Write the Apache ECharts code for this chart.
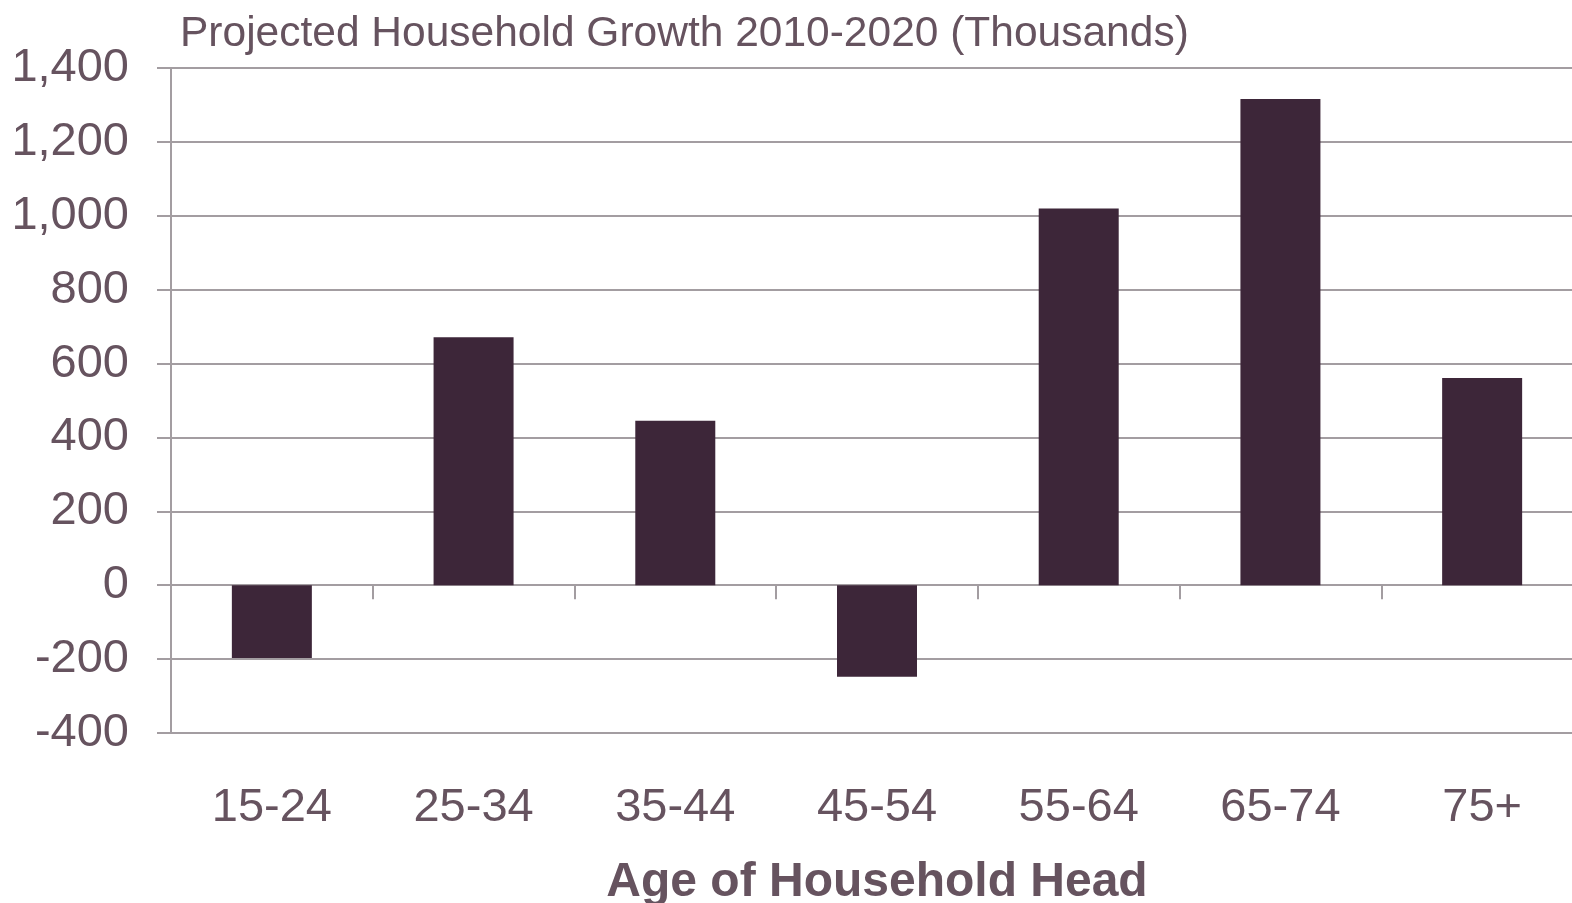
<!DOCTYPE html>
<html>
<head>
<meta charset="utf-8">
<title>Projected Household Growth 2010-2020</title>
<script src="https://cdn.jsdelivr.net/npm/echarts@6/dist/echarts.min.js"></script>
<style>
  html, body { margin: 0; padding: 0; background: #ffffff; }
  #chart { width: 1572px; height: 903px; }
</style>
</head>
<body>
<div id="chart"></div>
<script>
// Age groups of the household head
const categories = ['15-24', '25-34', '35-44', '45-54', '55-64', '65-74', '75+'];
// Projected change in households, 2010-2020 (thousands)
const growth = [-197, 671, 445, -248, 1020, 1316, 561];
// Value axis range
const yMin = -400;
const yMax = 1400;
const yStep = 200;

const textColor = '#66535f';
const gridColor = '#a39da1';
const barColor = '#3d2639';
const fontFamily = '"Liberation Sans", Arial, sans-serif';

const chart = echarts.init(document.getElementById('chart'), null, { renderer: 'canvas' });

chart.setOption({
  backgroundColor: '#ffffff',
  animation: false,
  title: {
    text: 'Projected Household Growth 2010-2020 (Thousands)',
    left: 175,
    top: 8,
    textStyle: { color: textColor, fontSize: 42.5, fontWeight: 'normal', fontFamily: fontFamily }
  },
  grid: { left: 171, right: -11, top: 68, bottom: 170, containLabel: false, outerBoundsMode: 'none' },
  xAxis: [
    {
      // axis drawn along zero, with category boundary ticks
      type: 'category',
      data: categories,
      boundaryGap: true,
      axisLine: { show: true, onZero: true, lineStyle: { color: gridColor, width: 2 } },
      axisTick: { show: true, inside: false, length: 14, lineStyle: { color: gridColor, width: 2 } },
      axisLabel: { show: false },
      splitLine: { show: false }
    },
    {
      // labels and title along the bottom of the plot
      type: 'category',
      data: categories,
      position: 'bottom',
      boundaryGap: true,
      axisLine: { show: false, onZero: false },
      axisTick: { show: false },
      axisLabel: { color: textColor, fontSize: 47, fontFamily: fontFamily, margin: 52 },
      name: 'Age of Household Head',
      nameLocation: 'middle',
      nameGap: 126,
      nameTextStyle: { color: textColor, fontSize: 48, fontWeight: 'bold', fontFamily: fontFamily }
    }
  ],
  yAxis: {
    type: 'value',
    min: yMin,
    max: yMax,
    interval: yStep,
    axisLine: { show: true, lineStyle: { color: gridColor, width: 2 } },
    axisTick: { show: true, length: 14, lineStyle: { color: gridColor, width: 2 } },
    axisLabel: {
      color: textColor,
      fontSize: 47,
      fontFamily: fontFamily,
      margin: 42,
      formatter: v => v.toLocaleString('en-US')
    },
    splitLine: { show: true, lineStyle: { color: gridColor, width: 2 } }
  },
  series: [
    {
      type: 'bar',
      xAxisIndex: 0,
      data: growth,
      barWidth: 80,
      itemStyle: { color: barColor },
      label: { show: false }
    }
  ]
});
</script>
</body>
</html>
